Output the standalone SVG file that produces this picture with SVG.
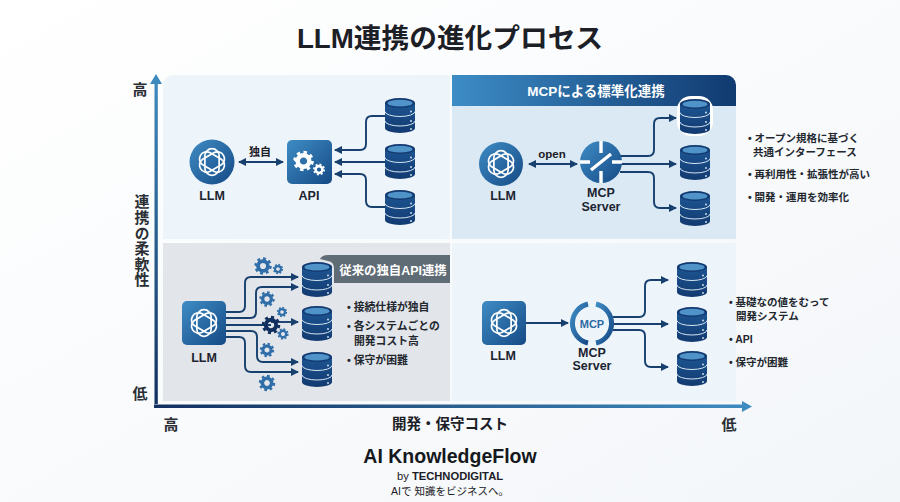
<svg xmlns="http://www.w3.org/2000/svg" width="900" height="502" viewBox="0 0 900 502">
<style>
text{font-family:"Liberation Sans","Noto Sans CJK JP",sans-serif;font-weight:700;fill:#1c2026}
.m{text-anchor:middle}
.nl{font-size:12.5px;text-anchor:middle;fill:#1b2430}
.li{font-size:10.5px;fill:#22272e}
.li2{font-size:10.8px;fill:#22272e}
.ax{font-size:15px;text-anchor:middle;fill:#2b2f35}
.c{fill:none;stroke:#17406f;stroke-width:1.9}
.a{marker-end:url(#arr)}
.k{fill:none;stroke:#fff;stroke-width:1.8}
.w{fill:none;stroke:#fff;stroke-width:3.4}
</style>
<defs>
<linearGradient id="bg" x1="0" y1="0" x2="1" y2="1"><stop offset="0" stop-color="#ffffff"/><stop offset="1" stop-color="#f3f6f9"/></linearGradient>
<linearGradient id="blue" x1="0" y1="0" x2="1" y2="1"><stop offset="0" stop-color="#3f8cc4"/><stop offset="1" stop-color="#154a86"/></linearGradient>
<linearGradient id="hd" x1="0" y1="0" x2="1" y2="0"><stop offset="0" stop-color="#3d8cc6"/><stop offset="1" stop-color="#103a70"/></linearGradient>
<linearGradient id="axv" x1="0" y1="1" x2="0" y2="0"><stop offset="0" stop-color="#12305f"/><stop offset="1" stop-color="#3f8cc0"/></linearGradient>
<linearGradient id="axh" gradientUnits="userSpaceOnUse" x1="152" y1="0" x2="752" y2="0"><stop offset="0" stop-color="#12305f"/><stop offset="1" stop-color="#3f8cc0"/></linearGradient>
<linearGradient id="dbf" x1="0" y1="0" x2="0" y2="1"><stop offset="0" stop-color="#1d5592"/><stop offset="1" stop-color="#123a70"/></linearGradient>
<marker id="arr" viewBox="0 0 8 8" refX="7" refY="4" markerUnits="userSpaceOnUse" markerWidth="8" markerHeight="8" orient="auto-start-reverse"><path d="M0 0L8 4L0 8Z" fill="#17406f"/></marker>
<g id="db">
<path d="M0 5V30A15 5 0 0 0 30 30V5Z" fill="url(#dbf)"/>
<ellipse cx="15" cy="5" rx="15" ry="5" fill="#123a70"/>
<ellipse cx="15" cy="5.2" rx="12.5" ry="3.4" fill="#4f93c9"/>
<path d="M0 13.5A15 5 0 0 0 30 13.5M0 23A15 5 0 0 0 30 23" fill="none" stroke="#d5e4f0" stroke-width="1"/>
<path d="M26 13.5h.01M26 23h.01M26 31h.01" stroke="#dbe8f2" stroke-width="1.8" stroke-linecap="round" fill="none"/>
</g>
<g id="gear" fill="none" stroke="currentColor">
<circle r="5.8" stroke-width="4.4"/>
<circle r="8.8" stroke-width="3" pathLength="16" stroke-dasharray="1 1"/>
</g>
<g id="knot">
<rect class="k" x="-7.500" y="-14" width="15" height="28" rx="7.500"/>
<rect class="k" x="-7.500" y="-14" width="15" height="28" rx="7.500" transform="rotate(60)"/>
<rect class="k" x="-7.500" y="-14" width="15" height="28" rx="7.500" transform="rotate(120)"/>
</g>
</defs>
<rect id="background" width="900" height="502" fill="url(#bg)"/>
<g id="panels">
<path d="M173 75H450V239H163V85A10 10 0 0 1 173 75Z" fill="#eef5fa"/>
<path d="M452 75H726A10 10 0 0 1 736 85V239H452Z" fill="#dbe9f4"/>
<path d="M452 75H726A10 10 0 0 1 736 85V106H452Z" fill="url(#hd)"/>
<rect x="163" y="243" width="287" height="158" fill="#e2e5e9"/>
<rect x="452" y="243" width="284" height="158" fill="#eef5fa"/>
<path d="M320 259Q322 255 328 255H450V283H334V268Q334 262 328 261Z" fill="#5f6b75"/>
</g>
<text id="title" class="m" x="450" y="48" font-size="27.700">LLM連携の進化プロセス</text>
<g id="axes">
<path d="M154.500 404V84H150L156 74L162 84H157.800V404Z" fill="url(#axv)"/>
<path d="M154 404.500H742V401L752 406.500L742 412V408H154Z" fill="url(#axh)"/>
<text class="ax" x="140" y="95">高</text>
<text x="141" y="241" font-size="15" letter-spacing=".6" style="writing-mode:vertical-rl;text-anchor:middle;fill:#2b2f35">連携の柔軟性</text>
<text class="ax" x="140" y="399">低</text>
<text class="ax" x="171" y="430">高</text>
<text class="m" x="450" y="429" font-size="14.500" fill="#2b2f35">開発・保守コスト</text>
<text class="ax" x="729" y="430">低</text>
</g>
<g id="connectors">
<path class="c" d="M239 162H283" marker-end="url(#arr)" marker-start="url(#arr)"/>
<path class="c a" d="M385 116H372Q366 116 366 122V144Q366 150 360 150H335"/>
<path class="c a" d="M385 162H335"/>
<path class="c a" d="M385 207H372Q366 207 366 201V180Q366 174 360 174H335"/>
<path class="c" d="M529 164H577" marker-end="url(#arr)" marker-start="url(#arr)"/>
<path class="c a" d="M620 156H648Q654 156 654 150V124Q654 118 660 118H676"/>
<path class="c a" d="M620 164H676"/>
<path class="c a" d="M620 172H648Q654 172 654 178V202Q654 208 660 208H676"/>
<path class="c a" d="M226 312H239Q245 312 245 306V283Q245 277 251 277H298"/>
<path class="c a" d="M226 318H250Q256 318 256 312V293Q256 287 262 287H298"/>
<path class="c" d="M226 325H271"/>
<path class="c a" d="M271 322H298"/>
<path class="c a" d="M226 331H251Q257 331 257 337V356Q257 362 263 362H298"/>
<path class="c a" d="M226 337H239Q245 337 245 343V366Q245 372 251 372H298"/>
<path class="c a" d="M526 323H568"/>
<path class="c a" d="M613 317H639Q645 317 645 311V286Q645 280 651 280H668"/>
<path class="c a" d="M613 324H668"/>
<path class="c a" d="M613 330H639Q645 330 645 336V361Q645 367 651 367H668"/>
</g>
<g id="q1-llm"><circle cx="212" cy="162" r="22.500" fill="url(#blue)"/><use href="#knot" transform="translate(212 162) scale(.95)"/><text class="nl" x="212" y="200">LLM</text></g>
<text id="q1-label" class="m" x="260" y="156" font-size="11">独自</text>
<g id="q1-api"><rect x="287" y="140" width="45" height="44" rx="5" fill="url(#blue)"/><use href="#gear" transform="translate(303.500 161)" style="color:#fff"/><use href="#gear" transform="translate(319 169.500) scale(.58)" style="color:#fff"/><text class="nl" x="309" y="200">API</text></g>
<g id="q1-db1"><use href="#db" x="385" y="98"/></g>
<g id="q1-db2"><use href="#db" x="385" y="144"/></g>
<g id="q1-db3"><use href="#db" x="385" y="190"/></g>
<text id="q2-title" class="m" x="596" y="96" font-size="13.500" style="fill:#fff">MCPによる標準化連携</text>
<g id="q2-llm"><circle cx="501" cy="164" r="22" fill="url(#blue)"/><use href="#knot" transform="translate(501 164) scale(.95)"/><text class="nl" x="503" y="200">LLM</text></g>
<text id="q2-label" class="m" x="552" y="158" font-size="11.500">open</text>
<g id="q2-mcp"><circle cx="601" cy="162" r="21" fill="url(#blue)"/>
<path class="w" d="M601 141V153M601 171V183M580 162H590M622 162H612M591 170L611 154"/>
<text class="nl" x="601" y="197">MCP</text><text class="nl" x="601" y="211">Server</text></g>
<g id="q2-db1"><rect x="677" y="96" width="36" height="40" rx="14" fill="#fff"/><use href="#db" x="680" y="99"/></g>
<g id="q2-db2"><use href="#db" x="680" y="145"/></g>
<g id="q2-db3"><use href="#db" x="680" y="191"/></g>
<g id="q2-list">
<text class="li" x="748" y="142">• オープン規格に基づく</text>
<text class="li" x="753" y="156">共通インターフェース</text>
<text class="li" x="748" y="178">• 再利用性・拡張性が高い</text>
<text class="li" x="748" y="201">• 開発・運用を効率化</text>
</g>
<text id="q3-tag" class="m" x="393" y="274.500" font-size="12.400" style="fill:#fff">従来の独自API連携</text>
<g id="q3-llm"><rect x="182" y="301" width="44" height="44" rx="5" fill="url(#blue)"/><use href="#knot" transform="translate(204 323) scale(.95)"/><text class="nl" x="204" y="362">LLM</text></g>
<g id="q3-gears" style="color:#2f6ea8">
<use href="#gear" transform="translate(263 266) scale(.85)"/>
<use href="#gear" transform="translate(278 269) scale(.5)"/>
<use href="#gear" transform="translate(267 299) scale(.75)"/>
<use href="#gear" transform="translate(271 325) scale(.9)" style="color:#12305f"/>
<use href="#gear" transform="translate(282 312) scale(.5)"/>
<use href="#gear" transform="translate(283 334) scale(.55)"/>
<use href="#gear" transform="translate(267 350) scale(.7)"/>
<use href="#gear" transform="translate(267 383) scale(.8)"/>
</g>
<g id="q3-db1"><use href="#db" x="302" y="262"/></g>
<g id="q3-db2"><use href="#db" x="302" y="306"/></g>
<g id="q3-db3"><use href="#db" x="302" y="352"/></g>
<g id="q3-list">
<text class="li2" x="347" y="311">• 接続仕様が独自</text>
<text class="li2" x="347" y="330">• 各システムごとの</text>
<text class="li2" x="354" y="345">開発コスト高</text>
<text class="li2" x="347" y="364">• 保守が困難</text>
</g>
<g id="q4-llm"><rect x="482" y="301" width="44" height="44" rx="5" fill="url(#blue)"/><use href="#knot" transform="translate(504 323) scale(.95)"/><text class="nl" x="503" y="360">LLM</text></g>
<g id="q4-mcp">
<path d="M588 304A20 20 0 0 0 588 343" fill="none" stroke="url(#blue)" stroke-width="5"/>
<path d="M596 304A20 20 0 0 1 596 343" fill="none" stroke="url(#blue)" stroke-width="5"/>
<text class="m" x="592" y="328" font-size="11" style="fill:#2c6aa3">MCP</text>
<text class="nl" x="592" y="357">MCP</text><text class="nl" x="592" y="370">Server</text></g>
<g id="q4-db1"><use href="#db" x="677" y="262"/></g>
<g id="q4-db2"><use href="#db" x="677" y="307"/></g>
<g id="q4-db3"><use href="#db" x="677" y="351"/></g>
<g id="q4-list">
<text class="li" x="729" y="306">• 基礎なの値をむって</text>
<text class="li" x="736" y="320">開発システム</text>
<text class="li" x="729" y="343">• API</text>
<text class="li" x="729" y="366">• 保守が困難</text>
</g>
<g id="brand">
<text class="m" x="450" y="463" font-size="19.500" style="fill:#15181d">AI KnowledgeFlow</text>
<text class="m" x="450" y="479.500" font-size="11.200"><tspan style="font-weight:400">by </tspan>TECHNODIGITAL</text>
<text class="m" x="450" y="495" font-size="10.500" style="font-weight:400">AIで 知識をビジネスへ。</text>
</g>
</svg>
